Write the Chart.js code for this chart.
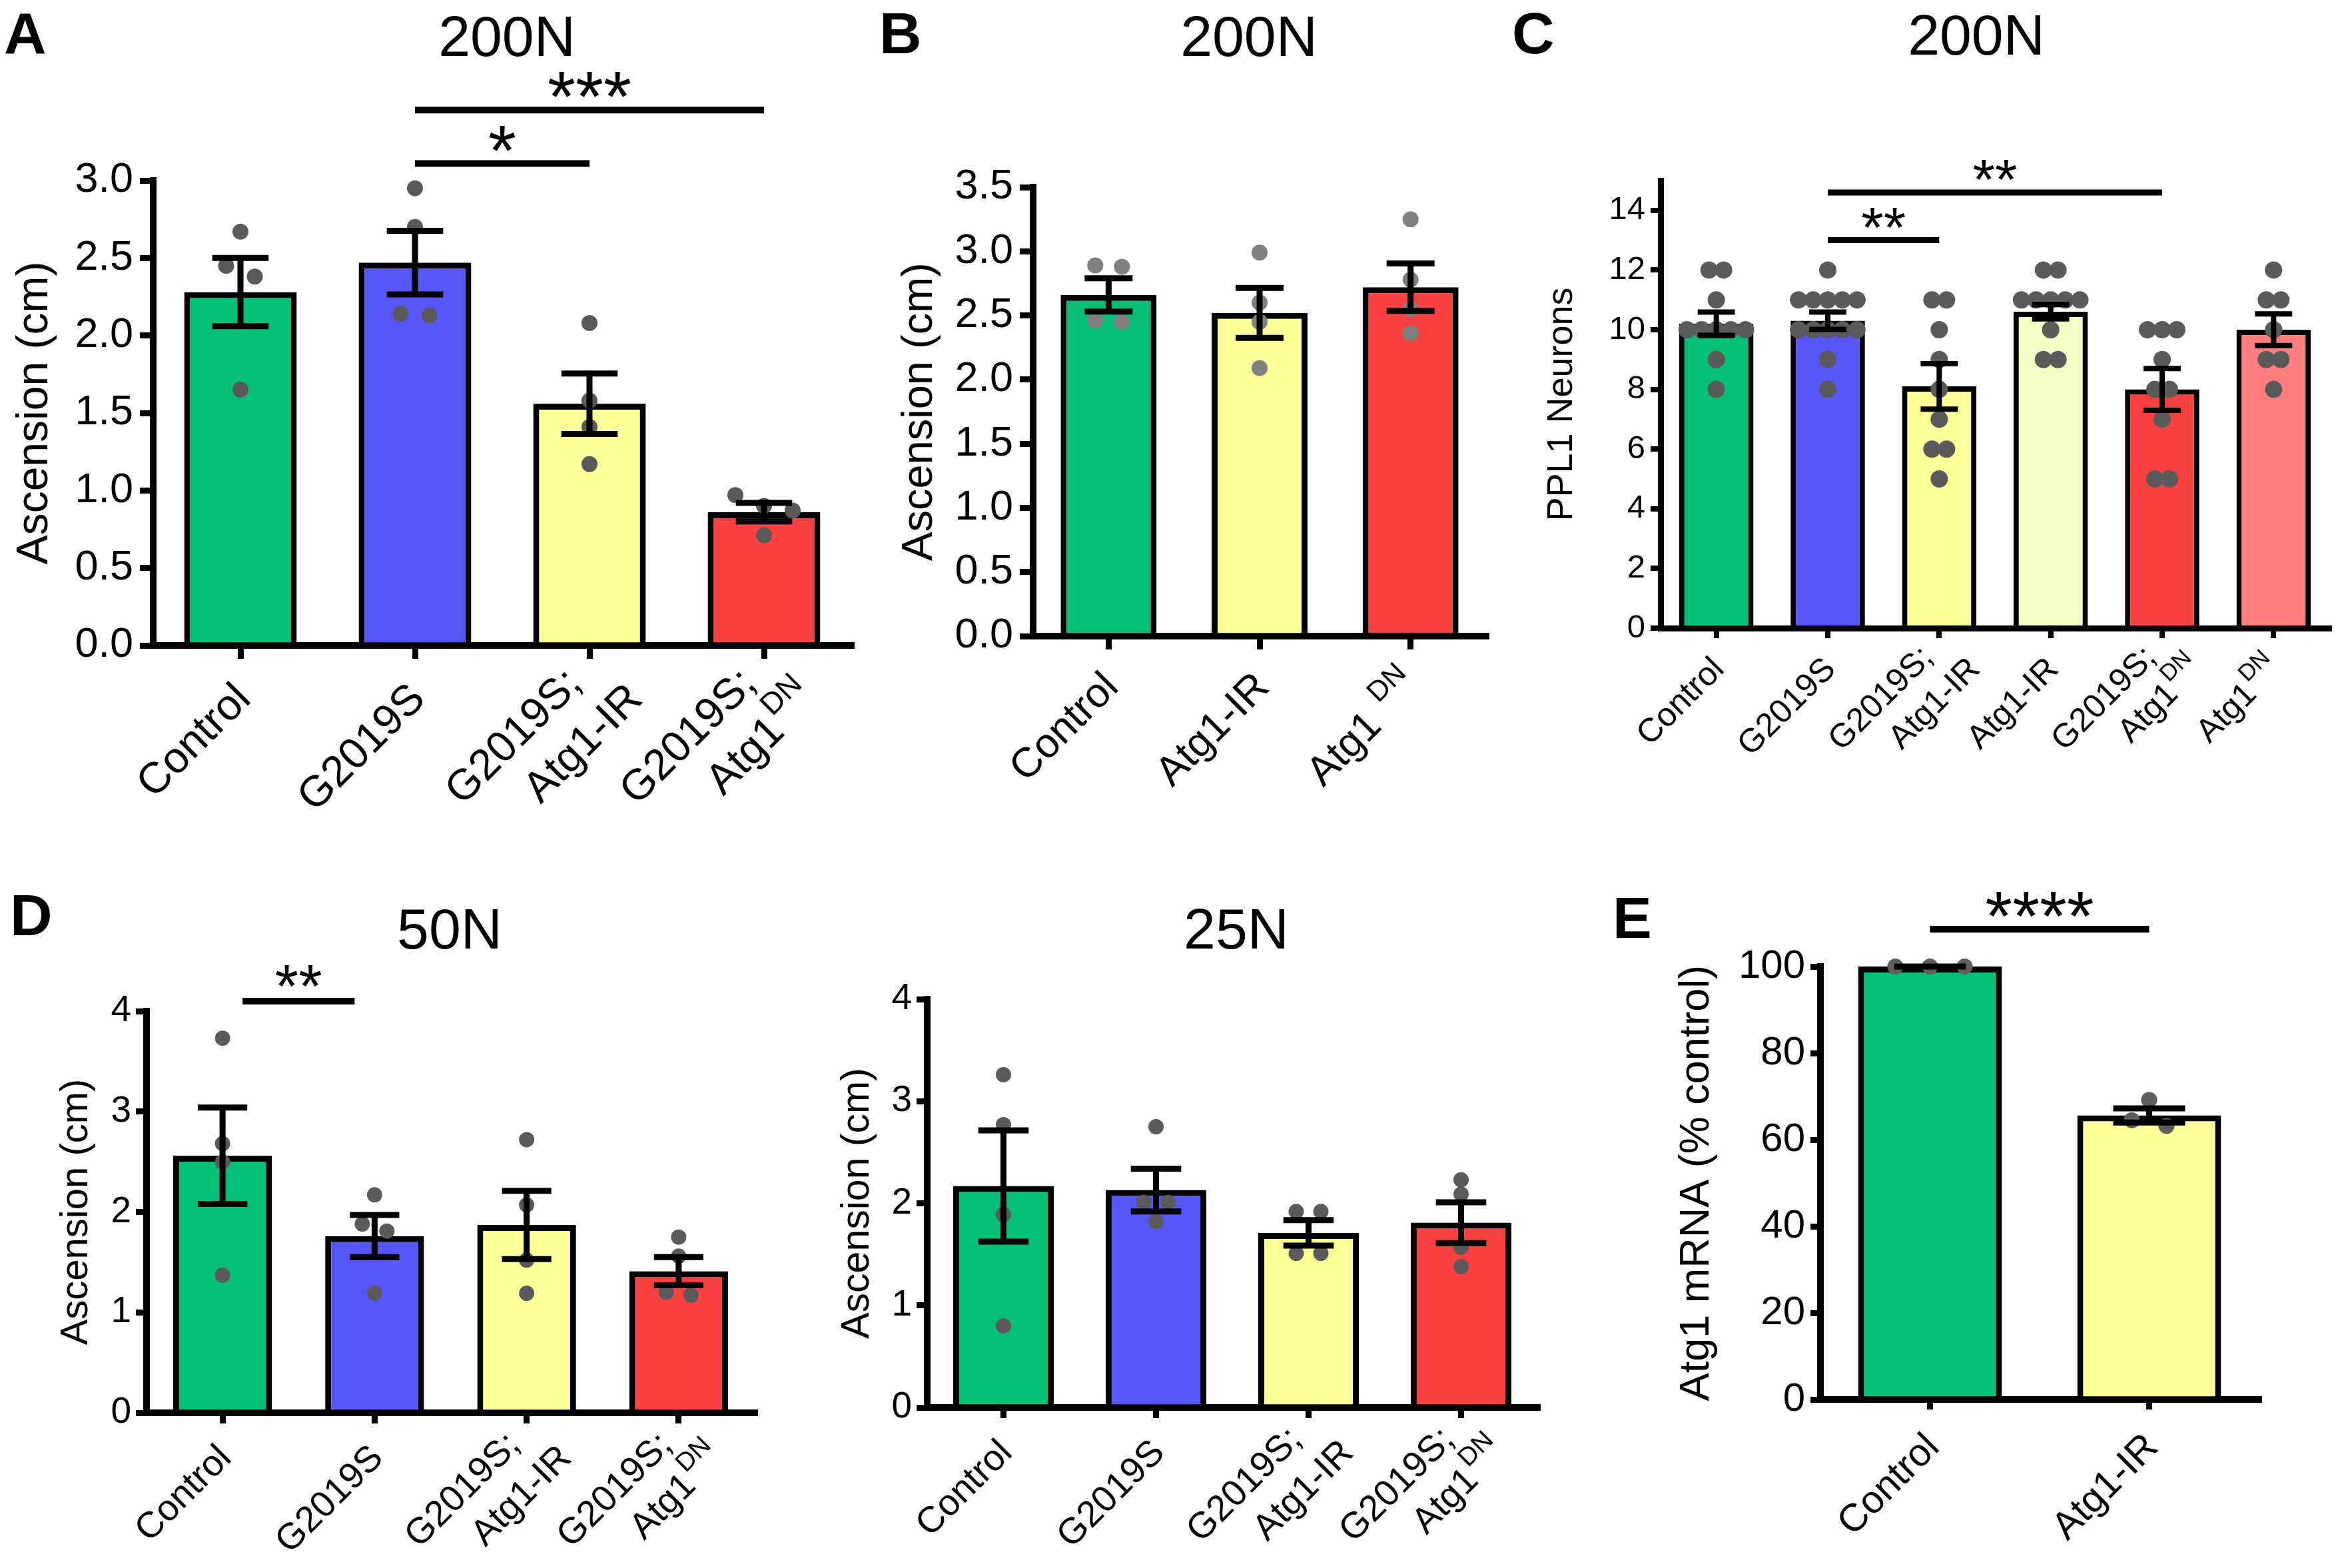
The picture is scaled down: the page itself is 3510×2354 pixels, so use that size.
<!DOCTYPE html>
<html>
<head>
<meta charset="utf-8">
<script src="https://cdn.jsdelivr.net/npm/chart.js@4.4.0/dist/chart.umd.min.js"></script>
<style>
  html, body { margin: 0; padding: 0; background: #fff; }
  #fig { position: relative; width: 3510px; height: 2354px; background: #fff; overflow: hidden; }
  canvas { position: absolute; }
</style>
</head>
<body>
<div id="fig"></div>
<script>
const FONT = '"Liberation Sans", Arial, Helvetica, sans-serif';
Chart.defaults.font.family = FONT;
Chart.defaults.color = '#000';

const GREEN = '#05BE78', BLUE = '#5757F9', YELLOW = '#FFFF99', RED = '#F94141';

// A - 200N climbing
const catsA = [['Control'], ['G2019S'], ['G2019S;', 'Atg1-IR'], ['G2019S;', 'Atg1^DN']];
const meansA = [2.28, 2.47, 1.56, 0.86];
const semA = [0.22, 0.205, 0.195, 0.06];
const pointsA = [[2.67, 2.45, 2.38, 1.65], [2.95, 2.70, 2.14, 2.13], [2.08, 1.58, 1.41, 1.17], [0.97, 0.90, 0.87, 0.71]];
const yTicksA = [0, 0.5, 1, 1.5, 2, 2.5, 3];
const sigA = [{ from: 1, to: 2, y: 3.11, text: '*' }, { from: 1, to: 3, y: 3.455, text: '***' }];

// B - 200N, Atg1 alone
const catsB = [['Control'], ['Atg1-IR'], ['Atg1 ^DN']];
const meansB = [2.66, 2.52, 2.72];
const semB = [0.13, 0.195, 0.185];
const pointsB = [[2.89, 2.88, 2.46, 2.45], [2.99, 2.60, 2.45, 2.09], [3.25, 2.78, 2.55, 2.36]];
const yTicksB = [0, 0.5, 1, 1.5, 2, 2.5, 3, 3.5];

// C - PPL1 neurons
const catsC = [['Control'], ['G2019S'], ['G2019S;', 'Atg1-IR'], ['Atg1-IR'], ['G2019S;', 'Atg1^DN'], ['Atg1^DN']];
const meansC = [10.2, 10.3, 8.1, 10.6, 8.0, 10.0];
const semC = [0.39, 0.29, 0.76, 0.24, 0.70, 0.53];
const pointsC = [
  [12, 12, 11, 10, 10, 10, 10, 10, 9, 8],
  [12, 11, 11, 11, 11, 11, 10, 10, 10, 10, 10, 9, 8],
  [11, 11, 10, 9, 8, 7, 6, 6, 5],
  [12, 12, 11, 11, 11, 11, 11, 10, 9, 9],
  [10, 10, 10, 9, 8, 8, 7, 5, 5],
  [12, 11, 11, 10, 9, 9, 8]
];
const yTicksC = [0, 2, 4, 6, 8, 10, 12, 14];
const sigC = [{ from: 1, to: 2, y: 13.0, text: '**' }, { from: 1, to: 4, y: 14.6, text: '**' }];

// D - 50N and 25N
const catsD = [['Control'], ['G2019S'], ['G2019S;', 'Atg1-IR'], ['G2019S;', 'Atg1^DN']];
const means50 = [2.56, 1.76, 1.87, 1.41];
const sem50 = [0.48, 0.21, 0.34, 0.14];
const points50 = [[3.73, 2.68, 2.50, 1.37], [2.17, 1.88, 1.81, 1.19], [2.72, 2.07, 1.52, 1.19], [1.75, 1.56, 1.20, 1.17]];
const sig50 = [{ from: 0, to: 1, y: 4.10, text: '**' }];
const means25 = [2.17, 2.13, 1.71, 1.81];
const sem25 = [0.545, 0.21, 0.125, 0.2];
const points25 = [[3.26, 2.77, 1.89, 0.80], [2.75, 2.01, 2.01, 1.82], [1.92, 1.92, 1.51, 1.51], [2.23, 2.09, 1.57, 1.38]];
const yTicksD = [0, 1, 2, 3, 4];

// E - Atg1 mRNA
const catsE = [['Control'], ['Atg1-IR']];
const meansE = [100, 65.6];
const semE = [0, 1.65];
const pointsE = [[100, 100, 100], [69.2, 64.5, 63.2]];
const yTicksE = [0, 20, 40, 60, 80, 100];
const sigE = [{ from: 0, to: 1, y: 108.6, text: '****' }];

const panels = [
  { cats: catsA, means: meansA, sem: semA, points: pointsA, yTicks: yTicksA, dec: 1, sig: sigA,
    colors: [GREEN, BLUE, YELLOW, RED], yTitle: 'Ascension (cm)', letter: 'A', title: '200N',
    box: [0, 0, 1290, 1290], area: [230, 271, 1278, 969], letterPos: [6, 80], titlePos: [761, 84], yTitleX: 53,
    fs: { tick: 63, yTitle: 66, xLab: 65, star: 108 }, tickLen: 20, tickPad: 10, lw: 9, barFrac: 0.645,
    dotR: 12, dotGap: 43, dotColor: '#595959', starGap: 14, inset: 0 },
  { cats: catsB, means: meansB, sem: semB, points: pointsB, yTicks: yTicksB, dec: 1, sig: [],
    colors: [GREEN, YELLOW, RED], yTitle: 'Ascension (cm)', letter: 'B', title: '200N',
    box: [1290, 0, 960, 1290], area: [1551, 281, 2231, 955], letterPos: [1320, 80], titlePos: [1875, 84], yTitleX: 1381,
    fs: { tick: 63, yTitle: 65, xLab: 62, star: 108 }, tickLen: 20, tickPad: 10, lw: 9, barFrac: 0.635,
    dotR: 12, dotGap: 40, dotColor: '#808080', starGap: 14, inset: 0 },
  { cats: catsC, means: meansC, sem: semC, points: pointsC, yTicks: yTicksC, dec: 0, sig: sigC,
    colors: [GREEN, BLUE, YELLOW, '#F4FDC3', RED, '#FF7F7F'], yTitle: 'PPL1 Neurons', letter: 'C', title: '200N',
    box: [2250, 0, 1260, 1290], area: [2493, 271, 3500, 943], letterPos: [2270, 80], titlePos: [2967, 82], yTitleX: 2345,
    fs: { tick: 49, yTitle: 54, xLab: 50, star: 86 }, tickLen: 15, tickPad: 8, lw: 8, barFrac: 0.667,
    dotR: 13, dotGap: 22, dotColor: '#5A5A5A', starGap: 15, inset: 0, yMax: 15 },
  { cats: catsD, means: means50, sem: sem50, points: points50, yTicks: yTicksD, dec: 0, sig: sig50,
    colors: [GREEN, BLUE, YELLOW, RED], yTitle: 'Ascension (cm)', letter: 'D', title: '50N',
    box: [0, 1290, 1160, 1064], area: [220, 1518, 1133, 2121], letterPos: [15, 1404], titlePos: [675, 1424], yTitleX: 115,
    fs: { tick: 55, yTitle: 58, xLab: 55, star: 91 }, tickLen: 16, tickPad: 7, lw: 9, barFrac: 0.65,
    dotR: 11.5, dotGap: 37, dotColor: '#5A5A5A', starGap: 17, inset: 30 },
  { cats: catsD, means: means25, sem: sem25, points: points25, yTicks: yTicksD, dec: 0, sig: [],
    colors: [GREEN, BLUE, YELLOW, RED], yTitle: 'Ascension (cm)', letter: '', title: '25N',
    box: [1160, 1290, 1220, 1064], area: [1392, 1500, 2308, 2113], letterPos: [0, 0], titlePos: [1856, 1424], yTitleX: 1288,
    fs: { tick: 55, yTitle: 59, xLab: 55, star: 91 }, tickLen: 16, tickPad: 7, lw: 9, barFrac: 0.66,
    dotR: 11.5, dotGap: 37, dotColor: '#5A5A5A', starGap: 17, inset: 0 },
  { cats: catsE, means: meansE, sem: semE, points: pointsE, yTicks: yTicksE, dec: 0, sig: sigE,
    colors: [GREEN, YELLOW], yTitle: 'Atg1 mRNA (% control)', letter: 'E', title: '',
    box: [2380, 1290, 1130, 1064], area: [2733, 1451, 3391, 2101], letterPos: [2421, 1408], titlePos: [0, 0], yTitleX: 2548,
    fs: { tick: 60, yTitle: 63, xLab: 58, star: 105 }, tickLen: 15, tickPad: 8, lw: 9, barFrac: 0.656,
    dotR: 12, dotGap: 52, dotColor: '#5E5E5E', starGap: 14, inset: 0 }
];

// spread dots that would overlap, like a column scatter
function spread(vals, pxPerUnit, r, gap) {
  const s = vals.slice().sort((a, b) => b - a);
  const out = [];
  let group = [s[0]];
  const flush = () => group.forEach((v, k) => out.push({ v: v, dx: (k - (group.length - 1) / 2) * gap }));
  for (let i = 1; i < s.length; i++) {
    if ((group[group.length - 1] - s[i]) * pxPerUnit < 1.6 * r) group.push(s[i]);
    else { flush(); group = [s[i]]; }
  }
  flush();
  return out;
}

// label line with optional superscript after '^', right aligned at xEnd
function drawRich(ctx, text, xEnd, y, fs) {
  const parts = text.split('^');
  const main = parts[0], sup = parts[1] || '';
  const supFs = Math.round(fs * 0.7);
  ctx.font = fs + 'px ' + FONT;
  const w1 = ctx.measureText(main).width + (sup ? fs * 0.05 : 0);
  ctx.font = supFs + 'px ' + FONT;
  const w2 = ctx.measureText(sup).width;
  const x0 = xEnd - w1 - w2;
  ctx.font = fs + 'px ' + FONT;
  ctx.fillText(main, x0, y);
  if (sup) {
    ctx.font = supFs + 'px ' + FONT;
    ctx.fillText(sup, x0 + w1, y - fs * 0.5);
  }
}

const fig = document.getElementById('fig');

function makePanel(p) {
  const [bx, by, bw, bh] = p.box;
  const [al, at, ar, ab] = p.area;
  const n = p.cats.length;
  const yMax = p.yMax || p.yTicks[p.yTicks.length - 1];
  const cv = document.createElement('canvas');
  cv.width = bw; cv.height = bh;
  cv.style.left = bx + 'px'; cv.style.top = by + 'px';
  cv.style.width = bw + 'px'; cv.style.height = bh + 'px';
  fig.appendChild(cv);

  const padL = 4;
  const pxPerUnit = (ab - at) / yMax;
  const catW = (ar - al) / n;
  const dots = [];
  p.points.forEach((vals, i) => {
    spread(vals, pxPerUnit, p.dotR, p.dotGap / catW).forEach(d => dots.push({ x: i + d.dx, y: d.v }));
  });
  const titleLH = p.fs.yTitle * 1.2;

  const errorBars = {
    id: 'errorBars',
    afterDatasetsDraw(chart) {
      const meta = chart.getDatasetMeta(1);
      const y = chart.scales.y, ctx = chart.ctx;
      ctx.save();
      ctx.strokeStyle = '#000';
      ctx.lineWidth = p.lw;
      meta.data.forEach((bar, i) => {
        const top = y.getPixelForValue(p.means[i] + p.sem[i]);
        const bot = y.getPixelForValue(p.means[i] - p.sem[i]);
        const half = bar.width * 0.25;
        ctx.beginPath();
        ctx.moveTo(bar.x, top); ctx.lineTo(bar.x, bot);
        ctx.moveTo(bar.x - half, top); ctx.lineTo(bar.x + half, top);
        ctx.moveTo(bar.x - half, bot); ctx.lineTo(bar.x + half, bot);
        ctx.stroke();
      });
      ctx.restore();
    }
  };

  const annotations = {
    id: 'annotations',
    afterDraw(chart) {
      const x = chart.scales.x, y = chart.scales.y, ctx = chart.ctx;
      const base = chart.chartArea.bottom;
      const fs = p.fs.xLab;
      ctx.save();
      ctx.fillStyle = '#000';
      ctx.strokeStyle = '#000';
      // significance bars
      p.sig.forEach(s => {
        const x1 = x.getPixelForValue(s.from) + p.inset;
        const x2 = x.getPixelForValue(s.to) - p.inset;
        const yy = y.getPixelForValue(s.y);
        ctx.lineWidth = p.lw + 1;
        ctx.beginPath(); ctx.moveTo(x1, yy); ctx.lineTo(x2, yy); ctx.stroke();
        ctx.font = p.fs.star + 'px ' + FONT;
        ctx.textAlign = 'center';
        ctx.textBaseline = 'alphabetic';
        ctx.fillText(s.text, (x1 + x2) / 2, yy - p.starGap + 0.29 * p.fs.star);
      });
      // rotated category labels; two-line labels are centred on the tick
      ctx.textAlign = 'left';
      ctx.textBaseline = 'alphabetic';
      p.cats.forEach((lines, i) => {
        ctx.save();
        ctx.translate(x.getPixelForValue(i) + 0.28 * fs, base + 1.28 * fs);
        ctx.rotate(-Math.PI / 4);
        const multi = lines.length > 1;
        lines.forEach((ln, j) => {
          const u = multi ? (j ? 0.7 : -0.05) * fs : 0;
          const v = multi ? (j ? 0.7 : -0.55) * fs : 0;
          drawRich(ctx, ln, u, v, fs);
        });
        ctx.restore();
      });
      // panel letter and title
      if (p.letter) {
        ctx.textAlign = 'left';
        ctx.font = 'bold 88px ' + FONT;
        ctx.fillText(p.letter, p.letterPos[0] - bx, p.letterPos[1] - by);
      }
      if (p.title) {
        ctx.textAlign = 'center';
        ctx.font = '86px ' + FONT;
        ctx.fillText(p.title, p.titlePos[0] - bx, p.titlePos[1] - by);
      }
      ctx.restore();
    }
  };

  new Chart(cv, {
    type: 'bar',
    data: {
      labels: p.cats,
      datasets: [
        {
          type: 'scatter', data: dots, xAxisID: 'xs', yAxisID: 'y', order: 1, clip: false,
          pointRadius: p.dotR, pointHoverRadius: p.dotR, backgroundColor: p.dotColor, borderWidth: 0
        },
        {
          data: p.means, xAxisID: 'x', yAxisID: 'y', order: 2, grouped: false,
          backgroundColor: p.colors, borderColor: '#000', borderWidth: p.lw, borderSkipped: 'bottom',
          categoryPercentage: 1, barPercentage: p.barFrac
        }
      ]
    },
    options: {
      responsive: false,
      animation: false,
      devicePixelRatio: 1,
      layout: { padding: { left: padL, top: at - by, right: bx + bw - ar, bottom: 0 } },
      plugins: { legend: { display: false }, tooltip: { enabled: false } },
      scales: {
        x: {
          type: 'category', offset: true,
          grid: { offset: false, drawOnChartArea: false, drawTicks: true, tickLength: p.tickLen, lineWidth: p.lw, color: '#000' },
          border: { display: true, width: p.lw + 1, color: '#000' },
          ticks: { display: false },
          afterFit: s => { s.height = by + bh - ab; }
        },
        xs: { type: 'linear', axis: 'x', display: false, offset: false, bounds: 'data', min: -0.5, max: n - 0.5 },
        y: {
          min: 0, max: yMax,
          afterBuildTicks: s => { s.ticks = p.yTicks.map(v => ({ value: v })); },
          grid: { drawOnChartArea: false, drawTicks: true, tickLength: p.tickLen, lineWidth: p.lw, color: '#000' },
          border: { display: true, width: p.lw + 1, color: '#000' },
          ticks: { font: { size: p.fs.tick }, color: '#000', padding: p.tickPad, callback: v => Number(v).toFixed(p.dec) },
          title: {
            display: true, text: p.yTitle, color: '#000', font: { size: p.fs.yTitle },
            padding: { top: p.yTitleX - bx - padL - titleLH / 2, bottom: 0 }
          },
          afterFit: s => { s.width = al - bx - padL; }
        }
      }
    },
    plugins: [errorBars, annotations]
  });
}

panels.forEach(makePanel);
</script>
</body>
</html>
